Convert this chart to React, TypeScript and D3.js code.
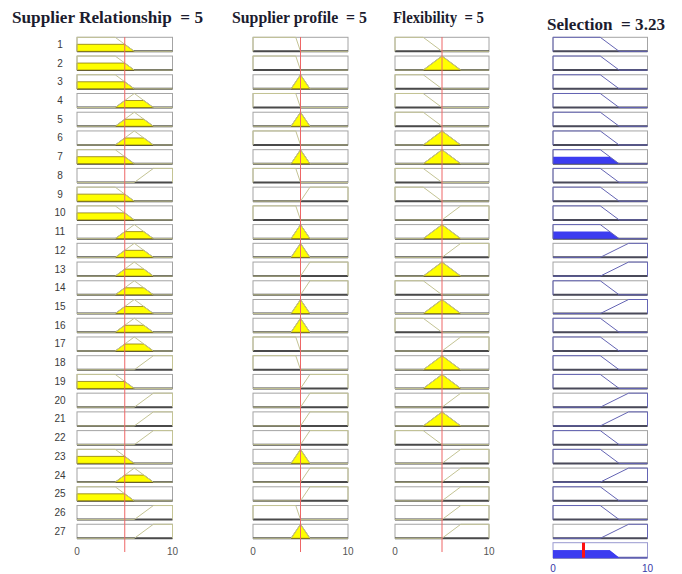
import React from "react";
import * as d3 from "d3";

// rule numbers shown at the left
const ruleNumbers = [
  1, 2, 3, 4, 5, 6, 7, 8, 9, 10, 11, 12, 13, 14, 15, 16, 17, 18, 19, 20, 21, 22,
  23, 24, 25, 26, 27,
];

const inputTitles = ["Supplier Relationship", "Supplier profile", "Flexibility"];
const inputValues = [5, 5, 5];
const outputTitle = "Selection";
const outputValue = 3.23;

// membership function parameters (trapezoid a b c d, triangle a b c)
const relationshipMFs: Record<string, number[]> = { L: [0, 0, 4, 6], M: [4, 6, 8], H: [6, 8, 10, 10] };
const profileMFs: Record<string, number[]> = { L: [0, 0, 4.5, 5], M: [4, 5, 6], H: [5, 6, 10, 10] };
const flexibilityMFs: Record<string, number[]> = { L: [0, 0, 3, 5], M: [3, 5, 7], H: [5, 7, 10, 10] };
const selectionMFs: Record<string, number[]> = { L: [0, 0, 5, 7], H: [5, 8, 10, 10] };

// which term each rule uses
const relationshipRules = ["L","L","L","M","M","M","L","H","L","L","M","M","M","M","M","M","M","H","L","H","H","H","L","M","L","H","H"];
const profileRules = ["L","L","M","L","M","L","M","L","H","L","M","M","H","H","M","M","L","L","H","H","H","H","M","H","H","L","M"];
const flexibilityRules = ["L","M","L","L","L","M","M","L","L","H","M","H","M","L","M","L","H","M","M","H","M","L","H","H","H","H","H"];
const selectionRules = ["L","L","L","L","L","L","L","L","L","L","L","H","H","L","H","L","L","L","L","H","H","L","L","H","L","L","H"];
const ruleWeights = [1,1,1,1,1,1,1,1,1,1,1,1,1,1,0,1,1,1,1,1,1,1,1,1,1,1,1];

const toTrap = (p: number[]) => (p.length === 3 ? [p[0], p[1], p[1], p[2]] : p);

function mfValue(p: number[], x: number) {
  const [a, b, c, d] = toTrap(p);
  if (x < a || x > d) return 0;
  if (x >= b && x <= c) return 1;
  if (x < b) return (x - a) / (b - a);
  return (d - x) / (d - c);
}

const mfLine = (p: number[]) => {
  const [a, b, c, d] = toTrap(p);
  return [[0, 0], [a, 0], [b, 1], [c, 1], [d, 0], [10, 0]];
};

const clipped = (p: number[], h: number) => {
  const [a, b, c, d] = toTrap(p);
  return [[a, 0], [a + h * (b - a), h], [d - h * (d - c), h], [d, 0]];
};

const inputs = [
  { title: inputTitles[0], value: inputValues[0], mfs: relationshipMFs, rules: relationshipRules, range: [77, 172.5], tx: 12, tw: 191 },
  { title: inputTitles[1], value: inputValues[1], mfs: profileMFs, rules: profileRules, range: [253, 348], tx: 232, tw: 135 },
  { title: inputTitles[2], value: inputValues[2], mfs: flexibilityMFs, rules: flexibilityRules, range: [395, 489], tx: 393, tw: 91 },
];

export default function App() {
  const width = 682;
  const height = 574;
  const y = d3.scaleBand<number>().domain(ruleNumbers).range([37.3, 538.3]).paddingInner(0.25);
  const bh = y.bandwidth();
  const line = d3.line();
  const aggTop = 542.7;
  const aggH = 15;

  const firing = ruleNumbers.map((_, i) =>
    d3.min(inputs, inp => mfValue(inp.mfs[inp.rules[i]], inp.value))! * ruleWeights[i]
  );

  const outX = d3.scaleLinear().domain([0, 10]).range([553, 647.5]);

  const box = (x: d3.ScaleLinear<number, number>, top: number, h: number, key: string, bottom = "#4a4a4a", stroke = "#a4a4a4") => (
    <g key={key}>
      <rect x={x(0)} y={top} width={x(10) - x(0)} height={h} fill="#fff" stroke={stroke} strokeWidth={1} />
      <line x1={x(0)} x2={x(10)} y1={top + h} y2={top + h} stroke={bottom} strokeWidth={2} />
    </g>
  );

  const titleStyle: React.CSSProperties = {
    fontFamily: "'Liberation Serif', 'Times New Roman', serif",
    fontWeight: "bold",
    fontSize: 16,
    whiteSpace: "pre",
  };

  return (
    <svg width={width} height={height} style={{ position: "absolute", left: 0, top: 0 }}>
      <rect width={width} height={height} fill="#fff" />
      {ruleNumbers.map(r => (
        <text key={r} x={60} y={y(r)! + bh / 2 + 3.5} textAnchor="middle" fontSize={10}
          fontFamily="'Liberation Sans', Arial, sans-serif" fill="#3a3a3a">{r}</text>
      ))}

      {inputs.map((inp, ci) => {
        const x = d3.scaleLinear().domain([0, 10]).range(inp.range);
        return (
          <g key={ci}>
            <text x={inp.tx} y={23} style={titleStyle} fill="#1c1c2e" textLength={inp.tw}
              lengthAdjust="spacingAndGlyphs">{`${inp.title}  = ${inp.value}`}</text>
            {ruleNumbers.map((r, i) => {
              const top = y(r)!;
              const ly = d3.scaleLinear().domain([0, 1]).range([top + bh, top]);
              const p = inp.mfs[inp.rules[i]];
              const lvl = mfValue(p, inp.value);
              const pts = (arr: number[][]) => arr.map(([a, b]) => [x(a), ly(b)] as [number, number]);
              return (
                <g key={r}>
                  {box(x, top, bh, "b" + r)}
                  {lvl > 0 && (
                    <path d={line(pts(clipped(p, lvl)))! + "Z"} fill="#ffff00" stroke="#8a7a10" strokeWidth={0.8} />
                  )}
                  <path d={line(pts(mfLine(p)))!} fill="none" stroke="#c4c494" strokeWidth={1} />
                </g>
              );
            })}
            <line x1={x(inp.value)} x2={x(inp.value)} y1={37} y2={552} stroke="#ee6666" strokeWidth={1} />
            {[0, 10].map(t => (
              <text key={t} x={x(t)} y={555} textAnchor="middle" fontSize={10}
                fontFamily="'Liberation Sans', Arial, sans-serif" fill="#555">{t}</text>
            ))}
          </g>
        );
      })}

      <g>
        <text x={547} y={30} style={titleStyle} fill="#1c1c2e" textLength={118}
          lengthAdjust="spacingAndGlyphs">{`${outputTitle}  = ${outputValue}`}</text>
        {ruleNumbers.map((r, i) => {
          const top = y(r)!;
          const ly = d3.scaleLinear().domain([0, 1]).range([top + bh, top]);
          const p = selectionMFs[selectionRules[i]];
          const pts = (arr: number[][]) => arr.map(([a, b]) => [outX(a), ly(b)] as [number, number]);
          return (
            <g key={r}>
              {box(outX, top, bh, "o" + r, "#4a4a5a")}
              {firing[i] > 0 && (
                <path d={line(pts(clipped(p, firing[i])))! + "Z"} fill="#3c3cf0" stroke="none" />
              )}
              <path d={line(pts(mfLine(p)))!} fill="none" stroke="#6464b4" strokeWidth={1} />
            </g>
          );
        })}
        {(() => {
          const ly = d3.scaleLinear().domain([0, 1]).range([aggTop + aggH, aggTop]);
          return (
            <g>
              {box(outX, aggTop, aggH, "agg", "#6060b0", "#9a9ad0")}
              {ruleNumbers.map((r, i) =>
                firing[i] > 0 ? (
                  <path key={r}
                    d={line(clipped(selectionMFs[selectionRules[i]], firing[i]).map(([a, b]) => [outX(a), ly(b)] as [number, number]))! + "Z"}
                    fill="#3c3cf0" />
                ) : null
              )}
              <line x1={outX(outputValue)} x2={outX(outputValue)} y1={aggTop} y2={aggTop + aggH}
                stroke="#ff1010" strokeWidth={3} />
            </g>
          );
        })()}
        {[0, 10].map(t => (
          <text key={t} x={outX(t)} y={572} textAnchor="middle" fontSize={10}
            fontFamily="'Liberation Sans', Arial, sans-serif" fill="#3838a8">{t}</text>
        ))}
      </g>
    </svg>
  );
}
